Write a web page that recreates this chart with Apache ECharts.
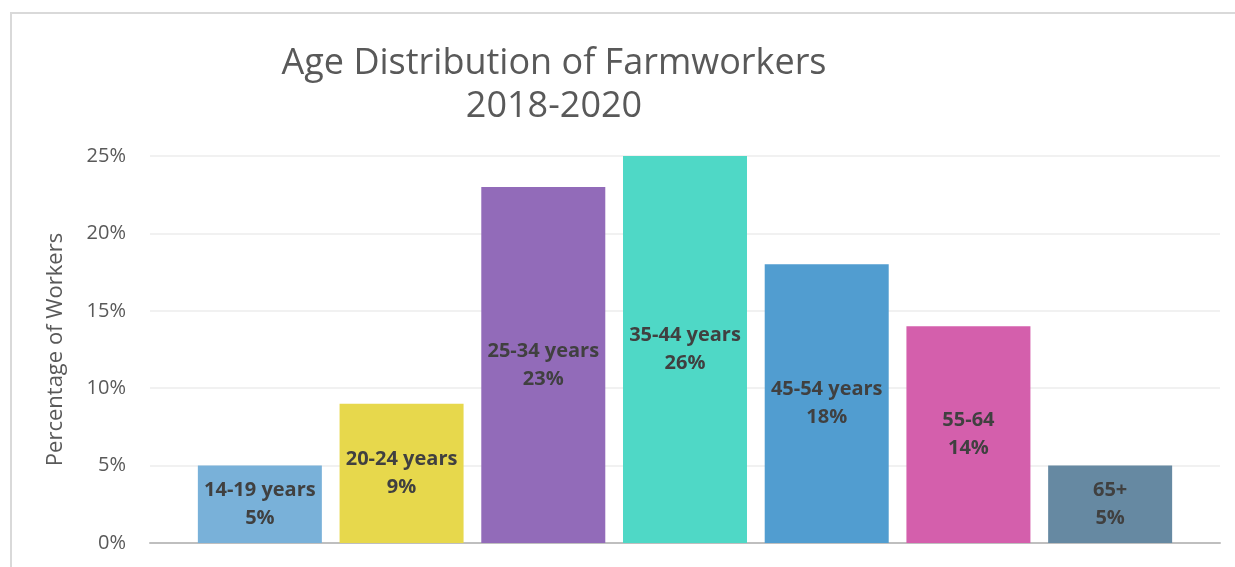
<!DOCTYPE html>
<html><head><meta charset="utf-8">
<script src="https://cdn.jsdelivr.net/npm/echarts@6/dist/echarts.min.js"></script>
<style>
html,body{margin:0;padding:0;background:#fff;}
#frame{position:absolute;left:10px;top:12px;width:1240px;height:600px;border-top:2px solid #d9d9d9;border-left:2px solid #d9d9d9;box-sizing:border-box;}
#c{position:absolute;left:0;top:0;width:1235px;height:567px;}
</style></head>
<body>
<div id="frame"></div>
<div id="c"></div>
<script>
const categories = ['14-19 years','20-24 years','25-34 years','35-44 years','45-54 years','55-64','65+'];
const values = [5, 9, 23, 26, 18, 14, 5];
const colors = ['#79b1d9','#e7d84c','#926bb9','#4fd8c6','#519dd0','#d45fac','#6689a2'];
const yTicks = [0, 5, 10, 15, 20, 25];

const chart = echarts.init(document.getElementById('c'));
chart.setOption({
  animation:false,
  title:{
    text:'Age Distribution of Farmworkers\n2018-2020',
    left:549, top:37, textAlign:'center',
    textStyle:{fontFamily:'Open Sans', fontWeight:'normal', fontSize:36, color:'#595959', lineHeight:43}
  },
  grid:[
    {left:150, right:15, top:156, bottom:24},
    {left:189, right:54, top:156, bottom:24}
  ],
  xAxis:[
    {gridIndex:0, type:'category', data:[''], axisLine:{lineStyle:{color:'#bfbfbf', width:2}}, axisTick:{show:false}, axisLabel:{show:false}},
    {gridIndex:1, type:'category', data:categories, axisLine:{show:false}, axisTick:{show:false}, axisLabel:{show:false}}
  ],
  yAxis:[
    {gridIndex:0, type:'value', min:yTicks[0], max:yTicks[yTicks.length-1], interval:5,
     name:'Percentage of Workers', nameLocation:'middle', nameGap:83, nameRotate:90,
     nameTextStyle:{fontFamily:'Open Sans', fontSize:22, color:'#595959'},
     axisLabel:{formatter:'{value}%', margin:24, fontFamily:'Open Sans', fontSize:20, color:'#595959'},
     splitLine:{lineStyle:{color:'#ececec', width:1.5}}, axisLine:{show:false}, axisTick:{show:false}},
    {gridIndex:1, type:'value', min:0, max:25, interval:5, show:false, splitLine:{show:false}}
  ],
  series:[{
    type:'bar', xAxisIndex:1, yAxisIndex:1,
    barCategoryGap:'12.5%', clip:true,
    data: values.map((v,i)=>({value:v, itemStyle:{color:colors[i]}})),
    label:{show:true, position:'inside',
      formatter:(p)=>p.name+'\n'+p.value+'%',
      fontFamily:'Open Sans', fontWeight:'bold', fontSize:20, color:'#404040', lineHeight:28}
  }]
});
</script>
</body></html>
